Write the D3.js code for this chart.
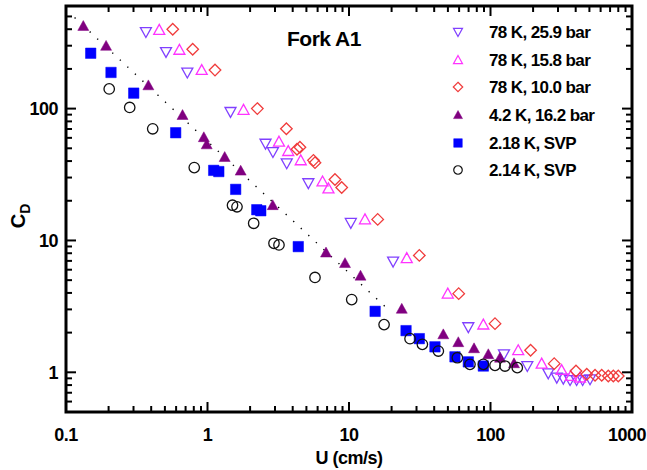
<!DOCTYPE html>
<html><head><meta charset="utf-8">
<script src="https://cdn.jsdelivr.net/npm/d3@7"></script>
<style>body{margin:0;background:#fff}text{font-family:"Liberation Sans",Arial,sans-serif;font-weight:bold}</style>
</head><body><svg id="c" width="647" height="470"></svg>
<script>
// ---- data ----
const xTickValues = [0.1, 1, 10, 100, 1000];
const xTickLabels = ["0.1", "1", "10", "100", "1000"];
const yTickValues = [1, 10, 100];
const yTickLabels = ["1", "10", "100"];
const seriesNames = ["78 K, 25.9 bar", "78 K, 15.8 bar", "78 K, 10.0 bar", "4.2 K, 16.2 bar", "2.18 K, SVP", "2.14 K, SVP"];

const u259 = [0.367,0.509,0.72,1.454,2.57,2.90,3.63,5.16,10.3,20.5,69.7,124.5,182,256,294,327,365,406,448,505];
const cd259 = [381,269,188,94.4,54.2,46.9,38.5,27.2,13.6,6.92,2.20,1.37,1.116,0.983,0.912,0.896,0.875,0.875,0.875,0.886];

const u158 = [0.456,0.633,0.910,1.797,3.20,3.72,4.56,6.50,7.16,12.97,25.6,49.9,89,157,230,318,369,429];
const cd158 = [395,279,196,97.8,56.1,47.6,40.5,28.0,24.8,14.45,7.34,3.95,2.30,1.47,1.163,1.04,0.938,0.912];

const u100 = [0.568,0.786,1.13,2.25,3.61,4.29,4.50,5.61,5.75,7.96,8.88,15.95,31.4,59.6,107.6,192,282,402,479,548,611,680,738,800];
const cd100 = [400,282,196,100,70.3,49.2,50.9,40.5,38.9,29.0,25.2,14.45,7.70,3.95,2.34,1.47,1.163,1.023,0.966,0.949,0.949,0.938,0.938,0.938];

const u42 = [0.1325,0.192,0.382,0.666,0.942,0.987,1.323,1.716,2.89,6.88,9.37,12.06,23.6,46.4,59.2,76.5,96.5,116.7,146.6];
const cd42 = [423,299,150,89.3,60.6,53.5,42.9,33.8,18.5,8.09,6.73,5.40,3.03,1.94,1.69,1.52,1.37,1.29,1.17];

const u218 = [0.1495,0.208,0.301,0.596,1.106,1.202,1.582,2.23,2.38,4.38,15.3,25.3,31.4,40.5,56.1,69.7,89];
const cd218 = [263,188,131,65.6,34.0,33.3,24.4,17.1,16.8,8.98,2.90,2.07,1.80,1.56,1.31,1.20,1.116];

const u214 = [0.202,0.282,0.410,0.806,1.502,1.616,2.12,2.95,3.20,5.75,10.45,17.7,27.0,33.0,42.8,58.3,71.6,89,107.6,126.6,154.6];
const cd214 = [141,102,70.3,35.7,18.5,18.0,13.5,9.52,9.25,5.24,3.56,2.30,1.80,1.63,1.45,1.29,1.149,1.149,1.13,1.116,1.085];

const fitU = [0.115, 18];
const fitCd = [490, 3.15];

// ---- chart ----
const svg = d3.select("#c");
const L = 66, R = 632, T = 6, B = 412;
const x = d3.scaleLog().domain([0.1, 1000]).range([L, R]);
const y = d3.scaleLog().domain([0.5, 600]).range([B, T]);

const series = [
  {u: u259, c: cd259, shape: "tdown", color: "#8040ff", fill: false},
  {u: u158, c: cd158, shape: "tup", color: "#ff33ff", fill: false},
  {u: u100, c: cd100, shape: "diamond", color: "#f03c3c", fill: false},
  {u: u42, c: cd42, shape: "tup", color: "#800080", fill: true},
  {u: u218, c: cd218, shape: "square", color: "#0000ff", fill: true},
  {u: u214, c: cd214, shape: "circle", color: "#111", fill: false}
];

function shapePath(shape, s) {
  const h = s / 2;
  if (shape === "tup") return `M0,${-h} L${h},${h*0.8} L${-h},${h*0.8} Z`;
  if (shape === "tdown") return `M0,${h} L${h},${-h*0.8} L${-h},${-h*0.8} Z`;
  if (shape === "diamond") return `M0,${-h*1.05} L${h*1.05},0 L0,${h*1.05} L${-h*1.05},0 Z`;
  if (shape === "square") return `M${-h*0.95},${-h*0.95} L${h*0.95},${-h*0.95} L${h*0.95},${h*0.95} L${-h*0.95},${h*0.95} Z`;
  if (shape === "circle") return d3.symbol(d3.symbolCircle, Math.PI * h * h * 0.9)();
}

// dotted fit line
svg.append("path")
  .attr("d", d3.line().x(d => x(d[0])).y(d => y(d[1]))(fitU.map((u, i) => [u, fitCd[i]])))
  .attr("fill", "none").attr("stroke", "#000").attr("stroke-width", 1.4)
  .attr("stroke-dasharray", "1.3,9");

// points
series.forEach(s => {
  const g = svg.append("g");
  s.u.forEach((u, i) => {
    g.append("path")
      .attr("d", shapePath(s.shape, 11))
      .attr("transform", `translate(${x(u)},${y(s.c[i])})`)
      .attr("fill", s.fill ? s.color : "none")
      .attr("stroke", s.color)
      .attr("stroke-width", s.fill ? 0.5 : 1.3);
  });
});

// ticks
const ax = svg.append("g").attr("stroke", "#000").attr("stroke-width", 2);
const xMinor = [], yMinor = [];
[0.1, 1, 10, 100].forEach(d => { for (let k = 2; k <= 9; k++) xMinor.push(d * k); });
[0.1, 1, 10, 100].forEach(d => { for (let k = 2; k <= 9; k++) { const v = d * k; if (v >= 0.5 && v <= 600) yMinor.push(v); } });
const tk = (x1, y1, x2, y2) => ax.append("line").attr("x1", x1).attr("y1", y1).attr("x2", x2).attr("y2", y2);
xTickValues.forEach(v => { tk(x(v), B, x(v), B - 10); tk(x(v), T, x(v), T + 10); });
xMinor.forEach(v => { tk(x(v), B, x(v), B - 6); tk(x(v), T, x(v), T + 6); });
yTickValues.forEach(v => { tk(L, y(v), L + 10, y(v)); tk(R, y(v), R - 10, y(v)); });
yMinor.forEach(v => { tk(L, y(v), L + 6, y(v)); tk(R, y(v), R - 6, y(v)); });

svg.append("rect").attr("x", L).attr("y", T).attr("width", R - L).attr("height", B - T)
  .attr("fill", "none").attr("stroke", "#000").attr("stroke-width", 3);

// tick labels
xTickValues.forEach((v, i) => {
  const last = i === xTickValues.length - 1;
  svg.append("text").attr("x", last ? 646 : x(v)).attr("y", 441)
    .attr("text-anchor", last ? "end" : "middle").attr("font-size", 18).attr("letter-spacing", -0.5).text(xTickLabels[i]);
});
yTickValues.forEach((v, i) => svg.append("text").attr("x", 58).attr("y", y(v) + 6.5)
  .attr("text-anchor", "end").attr("font-size", 18).attr("letter-spacing", -0.5).text(yTickLabels[i]));

// axis titles
svg.append("text").attr("x", x(10)).attr("y", 464).attr("text-anchor", "middle")
  .attr("font-size", 18).attr("letter-spacing", -0.5).text("U (cm/s)");
const yl = svg.append("text").attr("transform", "translate(25,216) rotate(-90)")
  .attr("text-anchor", "middle").attr("font-size", 20);
yl.append("tspan").text("C");
yl.append("tspan").attr("font-size", 14).attr("dy", 5).text("D");

svg.append("text").attr("x", 287).attr("y", 46).attr("font-size", 21).attr("letter-spacing", -0.5).text("Fork A1");

// legend
const legY = [32, 60, 87, 115, 143, 170];
series.forEach((s, i) => {
  svg.append("path").attr("d", shapePath(s.shape, 9))
    .attr("transform", `translate(458,${legY[i]})`)
    .attr("fill", s.fill ? s.color : "none").attr("stroke", s.color)
    .attr("stroke-width", s.fill ? 0.5 : 1.2);
  svg.append("text").attr("x", 489).attr("y", legY[i] + 6).attr("font-size", 17)
    .attr("letter-spacing", -0.6).text(seriesNames[i]);
});
</script></body></html>
